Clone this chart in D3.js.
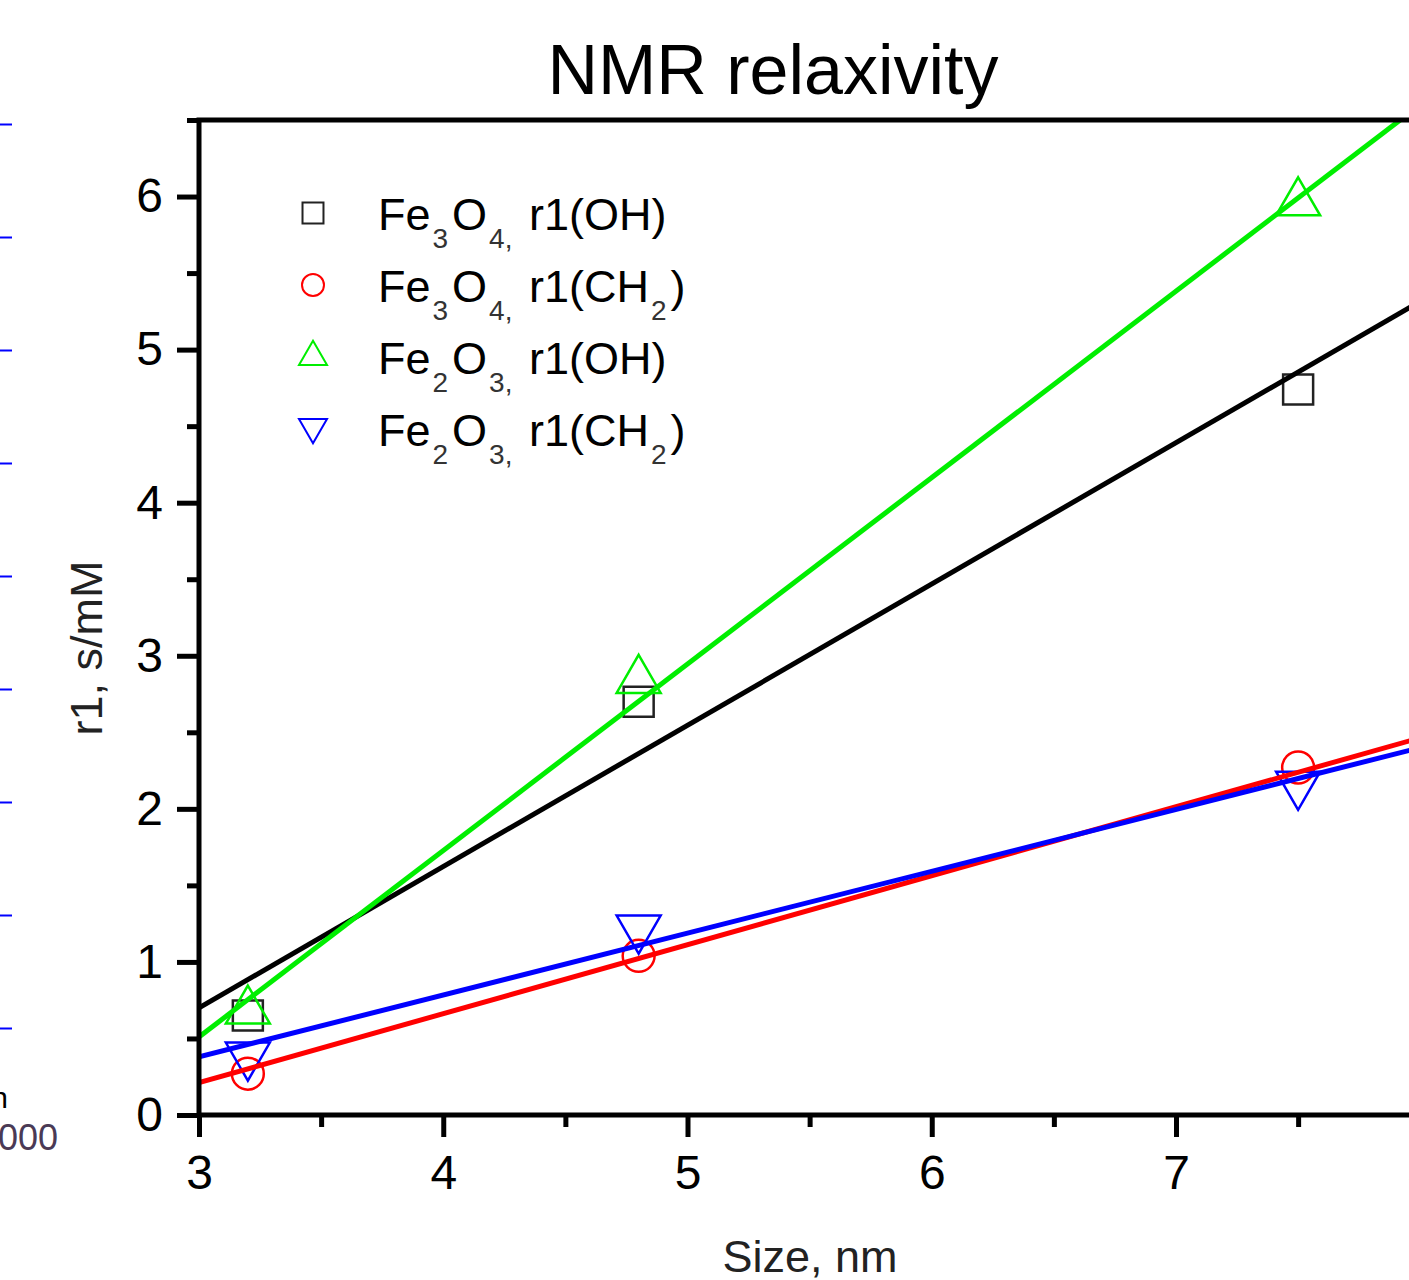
<!DOCTYPE html>
<html>
<head>
<meta charset="utf-8">
<title>NMR relaxivity</title>
<style>
  body { margin: 0; background: #fff; }
  text { font-family: "Liberation Sans", Arial, sans-serif; }
</style>
</head>
<body>
<svg id="chart" width="1409" height="1280"></svg>
<script src="https://cdn.jsdelivr.net/npm/d3@7"></script>
<script>
// data
const sizes = [3.2, 4.8, 7.5]
const fe3o4OH  = [0.65, 2.70, 4.74]
const fe3o4CH2 = [0.27, 1.04, 2.27]
const fe2o3OH  = [0.68, 2.84, 5.96]
const fe2o3CH2 = [0.39, 1.22, 2.16]
// linear fits drawn in the figure (slope, intercept)
const fitSlopes     = [0.923, 0.4505, 1.218, 0.404]
const fitIntercepts = [-2.069, -1.14, -3.144, -0.832]
// legend labels: [text, isSubscript]
const legendLabels = [
  [["Fe",0],["3",1],["O",0],["4,",1],[" r1(OH)",0]],
  [["Fe",0],["3",1],["O",0],["4,",1],[" r1(CH",0],["2",1],[")",0]],
  [["Fe",0],["2",1],["O",0],["3,",1],[" r1(OH)",0]],
  [["Fe",0],["2",1],["O",0],["3,",1],[" r1(CH",0],["2",1],[")",0]]
]
const xTicks = [3, 4, 5, 6, 7, 8]
const xMinor = [3.5, 4.5, 5.5, 6.5, 7.5]
const yTicks = [0, 1, 2, 3, 4, 5, 6]
const yMinor = [0.5, 1.5, 2.5, 3.5, 4.5, 5.5, 6.5]
// fragment of the neighbouring panel (left edge)
const sideTicks = [0, 1, 2, 3, 4, 5, 6, 7, 8]

const series = [
  { values: fe3o4OH,  color: "#000000", mark: "#222", symbol: d3.symbolSquare,   size: 900, leg: 440, rot: 0 },
  { values: fe3o4CH2, color: "#ff0000", mark: "#ff0000", symbol: d3.symbolCircle, size: 800, leg: 380, rot: 0 },
  { values: fe2o3OH,  color: "#00ee00", mark: "#00ee00", symbol: d3.symbolTriangle, size: 838, leg: 340, rot: 0 },
  { values: fe2o3CH2, color: "#0000ff", mark: "#0000ff", symbol: d3.symbolTriangle, size: 838, leg: 340, rot: 180 }
]

const svg = d3.select("#chart")
const x = d3.scaleLinear().domain([3, 8.2]).range([199, 199 + 5.2 * 244.25])
const y = d3.scaleLinear().domain([0, 6.5]).range([1115, 120])

// neighbouring panel fragment
const side = d3.scaleLinear().domain([0, 8]).range([1028, 124])
const sideAx = svg.append("g").call(d3.axisRight(side).tickValues(sideTicks).tickSize(12).tickFormat(""))
sideAx.select(".domain").remove()
sideAx.selectAll("line").attr("stroke", "#0000ff").attr("stroke-width", 2)
svg.append("text").attr("x", 8).attr("y", 1108).attr("text-anchor", "end")
  .attr("font-size", 30).text("n")
svg.append("text").attr("x", -2).attr("y", 1150)
  .attr("font-size", 36).attr("fill", "#4a3a55").text("000")

// clip
svg.append("clipPath").attr("id", "plot").append("rect")
  .attr("x", x(3)).attr("y", y(6.5)).attr("width", x(8.2) - x(3)).attr("height", y(0) - y(6.5))

// markers
const marks = svg.append("g")
series.forEach(s => {
  marks.selectAll(null).data(s.values).enter().append("path")
    .attr("d", d3.symbol(s.symbol, s.size))
    .attr("transform", (d, i) => `translate(${x(sizes[i])},${y(d)}) rotate(${s.rot})`)
    .attr("fill", "none").attr("stroke", s.mark).attr("stroke-width", 2.5)
})

// fit lines
const lines = svg.append("g").attr("clip-path", "url(#plot)")
const xd = x.domain()
series.forEach((s, k) => {
  lines.append("line")
    .attr("x1", x(xd[0])).attr("y1", y(fitSlopes[k] * xd[0] + fitIntercepts[k]))
    .attr("x2", x(xd[1])).attr("y2", y(fitSlopes[k] * xd[1] + fitIntercepts[k]))
    .attr("stroke", s.color).attr("stroke-width", 5)
})

// axes
function style(g, size) {
  g.attr("font-family", null).attr("font-size", null)
  g.select(".domain").remove()
  g.selectAll("line").attr("stroke", "#000").attr("stroke-width", 5)
  g.selectAll("text").attr("font-size", size).attr("fill", "#000")
}
svg.append("g").attr("transform", `translate(${x(3)},0)`)
  .call(d3.axisLeft(y).tickValues(yTicks).tickSize(22).tickPadding(14).tickFormat(d3.format("d")))
  .call(style, 48)
svg.append("g").attr("transform", `translate(${x(3)},0)`)
  .call(d3.axisLeft(y).tickValues(yMinor).tickSize(12).tickFormat(""))
  .call(style, 0)
svg.append("g").attr("transform", `translate(0,${y(0)})`)
  .call(d3.axisBottom(x).tickValues(xTicks).tickSize(22).tickPadding(18).tickFormat(d3.format("d")))
  .call(style, 48)
svg.append("g").attr("transform", `translate(0,${y(0)})`)
  .call(d3.axisBottom(x).tickValues(xMinor).tickSize(12).tickFormat(""))
  .call(style, 0)

// frame
svg.append("path")
  .attr("d", `M${x(8.2)},${y(6.5)}H${x(3)}V${y(0)}H${x(8.2)}`)
  .attr("fill", "none").attr("stroke", "#000").attr("stroke-width", 5)

// titles
svg.append("text").attr("x", 773).attr("y", 94).attr("text-anchor", "middle")
  .attr("font-size", 70).attr("fill", "#000").text("NMR relaxivity")
svg.append("text").attr("x", 810).attr("y", 1272).attr("text-anchor", "middle")
  .attr("font-size", 45).attr("fill", "#222").text("Size, nm")
svg.append("text").attr("transform", "translate(102,648) rotate(-90)").attr("text-anchor", "middle")
  .attr("font-size", 45).attr("fill", "#222").text("r1, s/mM")

// legend
const leg = svg.append("g")
series.forEach((s, k) => {
  const yy = 213 + k * 72
  leg.append("path")
    .attr("d", d3.symbol(s.symbol, s.leg))
    .attr("transform", `translate(313,${yy + (s.rot ? -2 : 0)}) rotate(${s.rot})`)
    .attr("fill", "none").attr("stroke", s.mark).attr("stroke-width", 2)
  const t = leg.append("text").attr("x", 378).attr("y", yy + 17).attr("font-size", 45).attr("fill", "#000")
  let down = false
  legendLabels[k].forEach(([txt, sub]) => {
    const ts = t.append("tspan").text(txt)
    if (sub) ts.attr("font-size", 28).attr("fill", "#333").attr("dx", 2)
    if (sub && !down) { ts.attr("dy", 18); down = true }
    else if (!sub && down) { ts.attr("dy", -18).attr("dx", 4); down = false }
  })
})
</script>
</body>
</html>
